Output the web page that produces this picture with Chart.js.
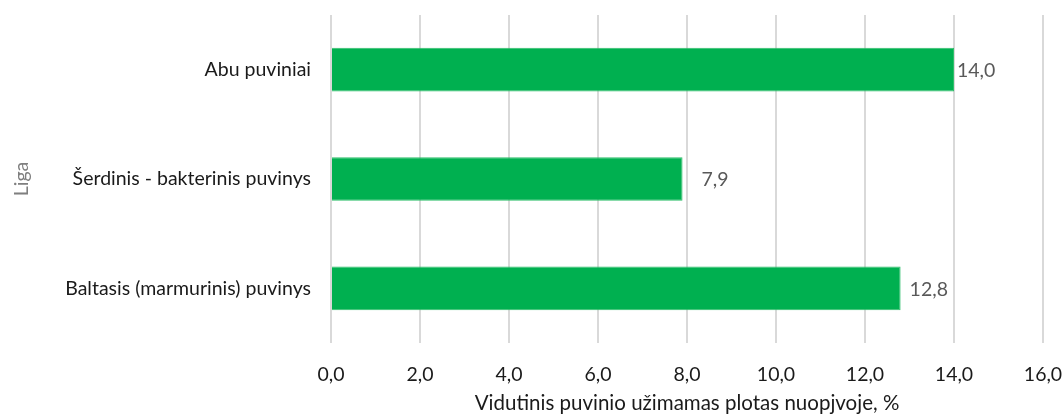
<!DOCTYPE html>
<html>
<head>
<meta charset="utf-8">
<script src="https://cdn.jsdelivr.net/npm/chart.js@4"></script>
<style>
  html, body { margin: 0; padding: 0; background: #ffffff; }
  #wrap { width: 1064px; height: 415px; }
</style>
</head>
<body>
<div id="wrap"><canvas id="c" width="1064" height="415"></canvas></div>
<script>
const categories = ["Abu puviniai", "Šerdinis - bakterinis puvinys", "Baltasis (marmurinis) puvinys"];
const values = [14.0, 7.9, 12.8];
const xTitle = "Vidutinis puvinio užimamas plotas nuopjvoje, %";
const yTitle = "Liga";

const FONT = "Lato, 'Open Sans', sans-serif";
const FS = 19.5;
const fmt = v => v.toFixed(1).replace('.', ',');

const labelPlugin = {
  id: 'barLabels',
  afterDatasetsDraw(chart, args, opts) {
    const ctx = chart.ctx;
    const meta = chart.getDatasetMeta(0);
    ctx.save();
    ctx.font = FS + "px " + FONT;
    ctx.fillStyle = "#595959";
    ctx.textAlign = "left";
    ctx.textBaseline = "middle";
    meta.data.forEach((el, i) => {
      const off = (opts.offsets && opts.offsets[i] != null) ? opts.offsets[i] : 6;
      ctx.fillText(fmt(values[i]), el.x + off, el.y + 1);
    });
    ctx.restore();
  }
};

const zeroPad = s => { s.paddingLeft = 0; s.paddingRight = 0; s.paddingTop = 0; s.paddingBottom = 0; };

new Chart(document.getElementById('c'), {
  type: 'bar',
  data: {
    labels: categories,
    datasets: [{
      data: values,
      backgroundColor: '#00B050',
      borderColor: '#2fbf6a',
      borderWidth: 1,
      categoryPercentage: 1.0,
      barPercentage: 0.4
    }]
  },
  options: {
    indexAxis: 'y',
    responsive: false,
    animation: false,
    devicePixelRatio: 1,
    layout: { padding: { top: 15, right: 21, bottom: 0, left: 0 } },
    plugins: {
      legend: { display: false },
      tooltip: { enabled: false },
      barLabels: { offsets: [3, 19, 9] }
    },
    scales: {
      x: {
        min: 0, max: 16,
        ticks: {
          stepSize: 2,
          padding: 20,
          color: '#1a1a1a',
          font: { family: FONT, size: FS },
          callback: v => fmt(v),
          maxRotation: 0
        },
        grid: { color: '#d9d9d9', lineWidth: 2, drawTicks: false },
        border: { display: false },
        title: {
          display: true,
          text: xTitle,
          color: '#1a1a1a',
          font: { family: FONT, size: 20.5 },
          padding: { top: 0, bottom: -1 }
        },
        afterFit: s => { s.height = 72; zeroPad(s); }
      },
      y: {
        ticks: {
          padding: 20,
          color: '#1a1a1a',
          font: { family: FONT, size: FS }
        },
        grid: { display: false, drawTicks: false },
        border: { display: false },
        title: {
          display: true,
          text: yTitle,
          color: '#7f7f7f',
          font: { family: FONT, size: FS },
          padding: { top: 10, bottom: 0 }
        },
        afterFit: s => { s.width = 331; zeroPad(s); }
      }
    }
  },
  plugins: [labelPlugin]
});
</script>
</body>
</html>
